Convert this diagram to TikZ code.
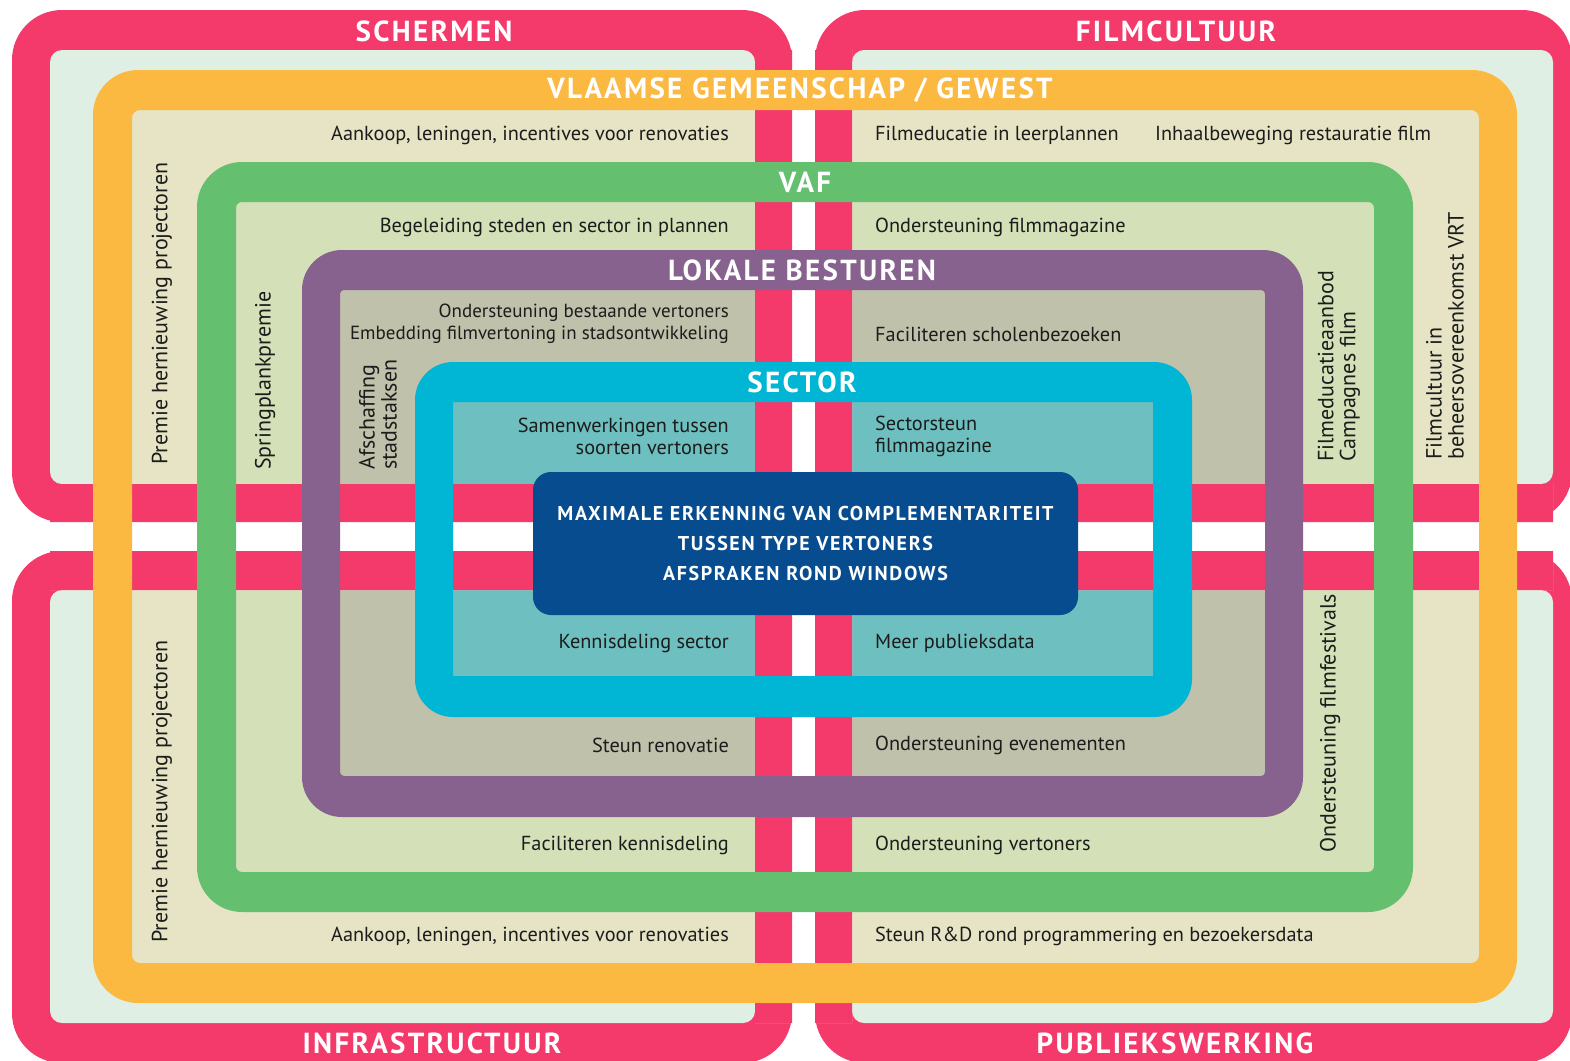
\documentclass[tikz,border=0pt]{standalone}
\usepackage{fontspec}
\setmainfont{PT Sans}
\definecolor{roze}{HTML}{F4396B}
\definecolor{mint}{HTML}{E0EFE3}
\definecolor{oranje}{HTML}{FBB941}
\definecolor{beige}{HTML}{E6E4C5}
\definecolor{groen}{HTML}{64BF6F}
\definecolor{groenlicht}{HTML}{D3E0B8}
\definecolor{paars}{HTML}{87628F}
\definecolor{paarslicht}{HTML}{C0C1AA}
\definecolor{cyaan}{HTML}{00B6D4}
\definecolor{teal}{HTML}{6EBFBF}
\definecolor{donkerblauw}{HTML}{064C8F}
\definecolor{tekstkleur}{HTML}{1C1C1C}
\begin{document}
\begin{tikzpicture}[x=1pt,y=-1pt,
  titel/.style={text=white,inner sep=0pt,font=\fontsize{29}{29}\selectfont\bfseries\addfontfeatures{LetterSpace=8}},
  tekst/.style={text=tekstkleur,inner sep=0pt,font=\fontsize{20.3}{22}\selectfont},
  links/.style={tekst,anchor=east,align=right},
  rechts/.style={tekst,anchor=west,align=left},
  staand/.style={tekst,rotate=90,anchor=west,align=left,font=\fontsize{22}{22}\selectfont}]

\useasboundingbox (0,0) rectangle (1570,1060);

% roze kaders
\foreach \xa/\xb in {12/792,815/1572}
  \foreach \ya/\yb in {10/522,551/1063}
    \fill[roze,rounded corners=50] (\xa,\ya) rectangle (\xb,\yb);
\foreach \xa/\xb in {50/755,852/1553}
  \foreach \ya/\yb in {50/484,590/1023}
    \fill[mint,rounded corners=12] (\xa,\ya) rectangle (\xb,\yb);

% binnenvlakken
\fill[beige,rounded corners=8] (132,110) rectangle (1479,963);
\fill[groenlicht,rounded corners=6] (236,202) rectangle (1374,872);
\fill[paarslicht,rounded corners=4] (340,290) rectangle (1265,776);
\fill[teal] (453,402) rectangle (1153,676);

% kruis
\fill[white] (755,50) rectangle (852,1023) (50,484) rectangle (1553,590);
\fill[roze] (755,50) rectangle (792,1023) (815,50) rectangle (852,1023)
  (50,484) rectangle (1553,522) (50,551) rectangle (1553,590);

% ringen
\fill[oranje,even odd rule,rounded corners=45] (93,70) rectangle (1517,1003)
  [rounded corners=8] (132,110) rectangle (1479,963);
\fill[groen,even odd rule,rounded corners=45] (197,162) rectangle (1413,912)
  [rounded corners=6] (236,202) rectangle (1374,872);
\fill[paars,even odd rule,rounded corners=40] (302,250) rectangle (1303,817)
  [rounded corners=4] (340,290) rectangle (1265,776);
\fill[cyaan,even odd rule,rounded corners=38] (415,362) rectangle (1192,717)
  [sharp corners] (453,402) rectangle (1153,676);

\node[fill=donkerblauw,rounded corners=18,minimum width=545,minimum height=143,
  text=white,align=center,font=\fontsize{20}{30}\selectfont\bfseries\addfontfeatures{LetterSpace=8}]
  (kern) at (805.5,543.5) {MAXIMALE ERKENNING VAN COMPLEMENTARITEIT\\TUSSEN TYPE VERTONERS\\AFSPRAKEN ROND WINDOWS};

% titels
\node[titel] (schermen) at (434,31) {SCHERMEN};
\node[titel] (filmcultuur) at (1176,31) {FILMCULTUUR};
\node[titel] (infra) at (432,1043) {INFRASTRUCTUUR};
\node[titel] (publiek) at (1175,1043) {PUBLIEKSWERKING};
\node[titel] (vlaams) at (800,90) {VLAAMSE GEMEENSCHAP / GEWEST};
\node[titel] (vaf) at (805,182) {VAF};
\node[titel] (lokaal) at (802,270) {LOKALE BESTUREN};
\node[titel] (sector) at (802,382) {SECTOR};

% links
\node[links] (aankoop) at (729,135) {Aankoop, leningen, incentives voor renovaties};
\node[links] (begeleiding) at (729,227) {Begeleiding steden en sector in plannen};
\node[links,font=\fontsize{19}{22}\selectfont] (bestaande) at (729,324) {Ondersteuning bestaande vertoners\\Embedding filmvertoning in stadsontwikkeling};
\node[links] (samenwerking) at (729,436) {Samenwerkingen tussen\\soorten vertoners};
\node[links] (kennis) at (729,643) {Kennisdeling sector};
\node[links] (renovatie) at (729,745) {Steun renovatie};
\node[links] (faciliteren) at (729,845) {Faciliteren kennisdeling};
\node[links] (aankoop2) at (729,936) {Aankoop, leningen, incentives voor renovaties};

% rechts
\node[rechts] (leerplannen) at (875,135) {Filmeducatie in leerplannen};
\node[rechts] (restauratie) at (1155,135) {Inhaalbeweging restauratie film};
\node[rechts] (magazine) at (875,227) {Ondersteuning filmmagazine};
\node[rechts] (scholen) at (875,334) {Faciliteren scholenbezoeken};
\node[rechts] (sectorsteun) at (875,436) {Sectorsteun\\filmmagazine};
\node[rechts] (publieksdata) at (875,643) {Meer publieksdata};
\node[rechts] (evenementen) at (875,745) {Ondersteuning evenementen};
\node[rechts] (vertoners) at (875,845) {Ondersteuning vertoners};
\node[rechts] (rnd) at (875,936) {Steun R\&D rond programmering en bezoekersdata};

% staand
\node[staand] (premie) at (162,465) {Premie hernieuwing projectoren};
\node[staand] (premie2) at (162,943) {Premie hernieuwing projectoren};
\node[staand] (springplank) at (265,470) {Springplankpremie};
\node[staand] (taksen) at (378,470) {Afschaffing\\stadstaksen};
\node[staand] (educatie) at (1339,462) {Filmeducatieaanbod\\Campagnes film};
\node[staand] (vrt) at (1445,460) {Filmcultuur in\\beheersovereenkomst VRT};
\node[staand] (festivals) at (1330,853) {Ondersteuning filmfestivals};

\end{tikzpicture}
\end{document}
